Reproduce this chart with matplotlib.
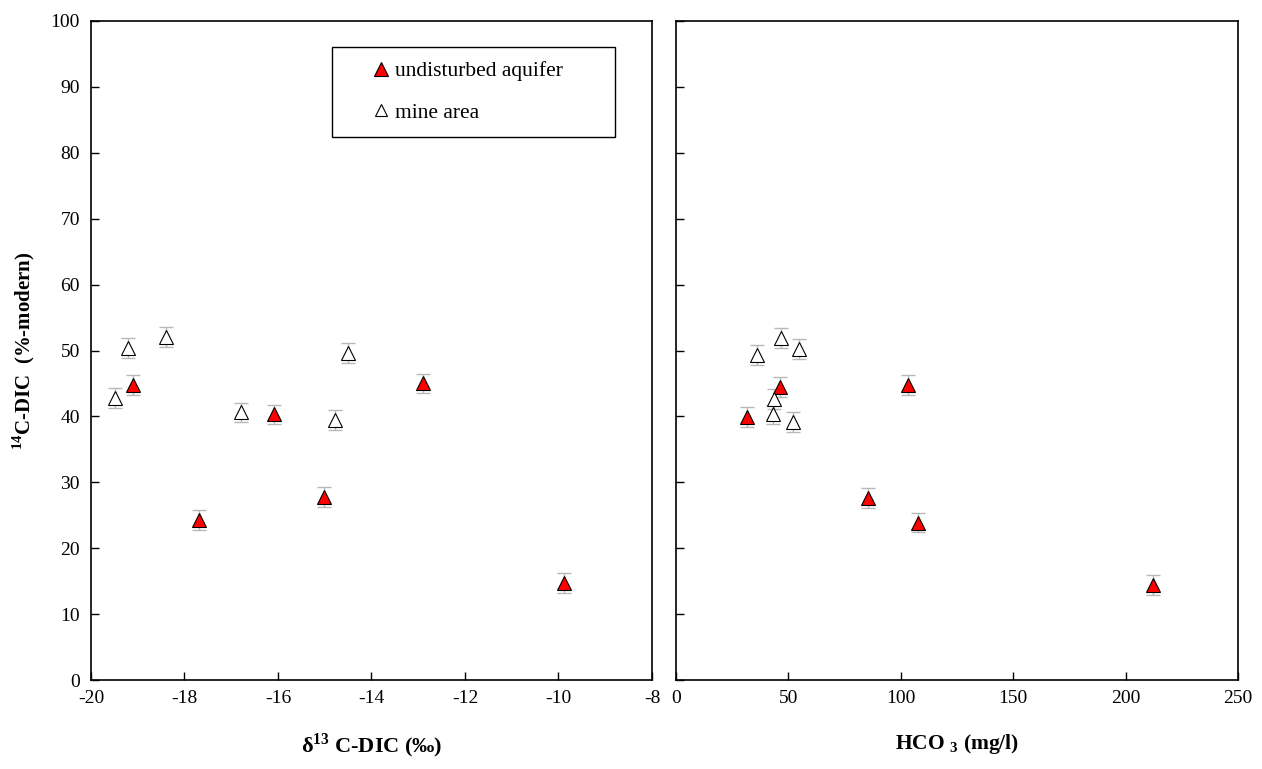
import numpy as np
import matplotlib.pyplot as plt
from matplotlib.lines import Line2D
from matplotlib.patches import Rectangle

plt.rcParams['font.family'] = ['Liberation Serif', 'DejaVu Serif']
plt.rcParams['mathtext.fontset'] = 'custom'
plt.rcParams['mathtext.rm'] = 'Liberation Serif'
plt.rcParams['mathtext.bf'] = 'Liberation Serif:bold'

# --- left panel: d13C-DIC vs 14C-DIC ---
d13c_undist = [-19.11, -17.70, -16.09, -15.01, -12.89, -9.88]
c14_undist_l = [44.8, 24.3, 40.3, 27.8, 45.0, 14.7]
d13c_mine = [-19.49, -19.20, -18.40, -16.79, -14.78, -14.50]
c14_mine_l = [42.8, 50.4, 52.1, 40.6, 39.5, 49.6]

# --- right panel: HCO3 vs 14C-DIC ---
hco3_undist = [31.4, 46.3, 85.5, 103.4, 107.8, 212.1]
c14_undist_r = [39.9, 44.5, 27.6, 44.8, 23.9, 14.4]
hco3_mine = [35.9, 43.3, 43.6, 46.6, 51.9, 54.8]
c14_mine_r = [49.3, 40.3, 42.6, 51.9, 39.2, 50.2]

err = 1.5

fig = plt.figure(figsize=(12.62, 7.69), dpi=100)
ax1 = fig.add_axes([0.0721, 0.1157, 0.4445, 0.857])
ax2 = fig.add_axes([0.5357, 0.1157, 0.4453, 0.857])

def draw(ax, xu, yu, xm, ym):
    ax.errorbar(xu, yu, yerr=err, fmt='none', ecolor='#b8b8b8', elinewidth=1,
                capsize=5, capthick=1, zorder=2)
    ax.errorbar(xm, ym, yerr=err, fmt='none', ecolor='#b8b8b8', elinewidth=1,
                capsize=5, capthick=1, zorder=2)
    ax.plot(xu, yu, '^', ms=10, mfc='#ff0000', mec='black', mew=0.8,
            ls='none', zorder=3)
    ax.plot(xm, ym, '^', ms=10, mfc='white', mec='black', mew=0.8,
            ls='none', zorder=3)
    ax.set_ylim(0, 100)
    ax.set_yticks(np.arange(0, 101, 10))
    ax.tick_params(direction='in', length=6, width=1, labelsize=14)
    ax.tick_params(axis='y', pad=8)
    ax.tick_params(axis='x', pad=7)
    for s in ax.spines.values():
        s.set_linewidth(1.2)

draw(ax1, d13c_undist, c14_undist_l, d13c_mine, c14_mine_l)
draw(ax2, hco3_undist, c14_undist_r, hco3_mine, c14_mine_r)

ax1.set_xlim(-20, -8)
ax1.set_xticks(np.arange(-20, -7, 2))
ax1.set_xticklabels([str(v) for v in range(-20, -7, 2)])
ax1.set_ylabel(r'$^{\mathbf{14}}$C-DIC  (%-modern)', fontsize=15,
               fontweight='bold', labelpad=10)
ax1.set_xlabel('δ' + r'$^{\mathbf{13}}$' + ' C-DIC (‰)', fontsize=16,
               fontweight='bold', labelpad=18)

ax2.set_xlim(0, 250)
ax2.set_xticks(np.arange(0, 251, 50))
ax2.set_yticklabels([])
ax2.set_xlabel(r'HCO $_{\mathbf{3}}$ (mg/l)', fontsize=15.5,
               fontweight='bold', labelpad=18)

# legend frame drawn separately, entries placed inside it
ax1.add_patch(Rectangle((0.43, 0.824), 0.504, 0.136, transform=ax1.transAxes,
                        fill=False, edgecolor='black', linewidth=1.0,
                        clip_on=False, zorder=4))
handles = [
    Line2D([], [], marker='^', ls='none', ms=10, mfc='#ff0000', mec='black', mew=0.8),
    Line2D([], [], marker='^', ls='none', ms=8, mfc='white', mec='black', mew=0.8),
]
leg = ax1.legend(handles, ['undisturbed aquifer', 'mine area'],
                 loc='center left', bbox_to_anchor=(0.497, 0.892),
                 fontsize=15.5, frameon=False, borderpad=0, labelspacing=1.0,
                 handletextpad=0.15, borderaxespad=0, handlelength=1.0)

fig.savefig('out.png', dpi=100)
